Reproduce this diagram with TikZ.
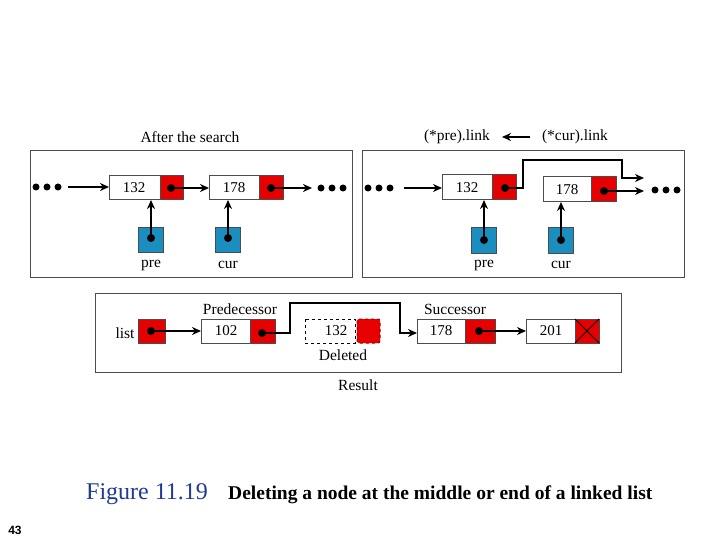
\documentclass[tikz,border=0pt]{standalone}
\usepackage{fontspec}
\setmainfont{Liberation Serif}
\newfontfamily\sans{Liberation Sans}
\usetikzlibrary{arrows.meta}
\definecolor{nred}{HTML}{E60000}
\definecolor{nblue}{HTML}{1A8FBF}
\definecolor{capblue}{HTML}{1F3A93}
\begin{document}
\begin{tikzpicture}[x=1pt,y=-1pt,
  panel/.style={draw=black!70,line width=1pt},
  dat/.style={draw=black!70,fill=white,line width=1pt},
  ptr/.style={draw=black!70,fill=nred,line width=1pt},
  ptrb/.style={draw=black!70,fill=nblue,line width=1pt},
  lnk/.style={line width=2pt,-{Stealth[length=9pt,width=8pt]}},
  dot/.style={circle,fill=black,inner sep=0pt,minimum size=8pt},
  txt/.style={font=\fontsize{15}{17}\selectfont,inner sep=0pt},
  lbl/.style={font=\fontsize{15.5}{17}\selectfont,inner sep=0pt}]
\useasboundingbox (0,0) rectangle (720,540);
% left panel
\draw[panel] (30,151) rectangle (352,277);
\node[lbl] (t1) at (190,137) {After the search};
\foreach \x in {36,47,58}{\fill (\x,187) circle (3.5pt);}
\coordinate (la) at (68,187);
\draw[dat] (109,176) rectangle (160,200); \node[txt] (a132) at (134,188) {132};
\draw[ptr] (160,176) rectangle (183,200); \node[dot] (ad1) at (171,188) {};
\draw[dat] (209,176) rectangle (259,200); \node[txt] (a178) at (234,188) {178};
\draw[ptr] (259,176) rectangle (283,200); \node[dot] (ad2) at (271,188) {};
\coordinate (ae1) at (109,187); \coordinate (ae2) at (209,188); \coordinate (ae3) at (312,188);
\draw[lnk] (la) -- (ae1); \draw[lnk] (ad1) -- (ae2); \draw[lnk] (ad2) -- (ae3);
\foreach \x in {321,332,343}{\fill (\x,188) circle (3.5pt);}
\draw[ptrb] (138,228) rectangle (163,252); \node[dot] (pd) at (151,238) {};
\draw[ptrb] (215,228) rectangle (240,252); \node[dot] (cd) at (228,238) {};
\coordinate (pt) at (151,200); \coordinate (ct) at (228,200);
\draw[lnk] (pd) -- (pt); \draw[lnk] (cd) -- (ct);
\node[lbl] (pl) at (151,265) {pre}; \node[lbl] (cl) at (228,265) {cur};
% right panel
\draw[panel] (362,151) rectangle (684,277);
\node[lbl] (t2a) at (457,137) {(*pre).link};
\node[lbl] (t2b) at (575,137) {(*cur).link};
\coordinate (ta) at (530,137); \coordinate (tb) at (502,137);
\draw[lnk] (ta) -- (tb);
\foreach \x in {368,379,390}{\fill (\x,188) circle (3.5pt);}
\coordinate (rb) at (404,188); \coordinate (rbe) at (442,188);
\draw[lnk] (rb) -- (rbe);
\draw[dat] (442,175) rectangle (492,200); \node[txt] (b132) at (467,188) {132};
\draw[ptr] (492,175) rectangle (516,200); \node[dot] (bd1) at (505,188) {};
\draw[dat] (543,177) rectangle (591,202); \node[txt] (b178) at (567,190) {178};
\draw[ptr] (591,177) rectangle (616,202); \node[dot] (bd2) at (604,191) {};
\coordinate (be1) at (644,178); \coordinate (be2) at (644,191);
\draw[lnk] (bd1) -- (523,188) -- (523,160) -- (622,160) -- (622,178) -- (be1);
\draw[lnk] (bd2) -- (be2);
\foreach \x in {655,666,677}{\fill (\x,190) circle (3.5pt);}
\draw[ptrb] (471,228) rectangle (496,253); \node[dot] (qd) at (484,240) {};
\draw[ptrb] (548,228) rectangle (573,253); \node[dot] (rd) at (561,240) {};
\coordinate (qt) at (484,200); \coordinate (rt) at (561,202);
\draw[lnk] (qd) -- (qt); \draw[lnk] (rd) -- (rt);
\node[lbl] (ql) at (484,265) {pre}; \node[lbl] (rl) at (561,265) {cur};
% bottom panel
\draw[panel] (95,293) rectangle (621,372);
\node[lbl] (ll) at (125,333) {list};
\draw[ptr] (138,319) rectangle (165,343); \node[dot] (cd0) at (151,331) {};
\draw[dat] (201,319) rectangle (250,343); \node[txt] (c102) at (226,331) {102};
\draw[ptr] (250,319) rectangle (275,343); \node[dot] (cd1) at (262,333) {};
\node[lbl] (predl) at (240,309) {Predecessor};
\draw[dashed,line width=1pt] (305,319) rectangle (355,343); \node[txt] (c132) at (336,331) {132};
\draw[dashed,draw=nred!70!black,fill=nred,line width=1pt,rounded corners=2pt] (357,319) rectangle (380,343);
\node[lbl] (dell) at (343,355) {Deleted};
\draw[dat] (417,319) rectangle (465,343); \node[txt] (c178) at (441,331) {178};
\draw[ptr] (465,319) rectangle (495,343); \node[dot] (cd2) at (479,331) {};
\node[lbl] (succl) at (455,309) {Successor};
\draw[dat] (526,319) rectangle (575,343); \node[txt] (c201) at (551,331) {201};
\draw[ptr] (575,319) rectangle (599,343);
\draw[line width=1pt] (575,319) -- (599,343) (575,343) -- (599,319);
\coordinate (ce0) at (201,331); \coordinate (ce1) at (417,333); \coordinate (ce2) at (526,331);
\draw[lnk] (cd0) -- (ce0);
\draw[lnk] (cd1) -- (290,333) -- (290,303) -- (400,303) -- (400,333) -- (ce1);
\draw[lnk] (cd2) -- (ce2);
\node[lbl] (res) at (358,385) {Result};
% caption
\node[font=\fontsize{24}{26}\selectfont,text=capblue,anchor=west,inner sep=0pt] (fig) at (86,494) {Figure 11.19};
\node[font=\fontsize{19.5}{22}\selectfont\bfseries,anchor=west,inner sep=0pt] (cap) at (228,495) {Deleting a node at the middle or end of a linked list};
\node[font=\sans\fontsize{12}{13}\selectfont\bfseries,inner sep=0pt] (pg) at (15,530) {43};
\end{tikzpicture}
\end{document}
